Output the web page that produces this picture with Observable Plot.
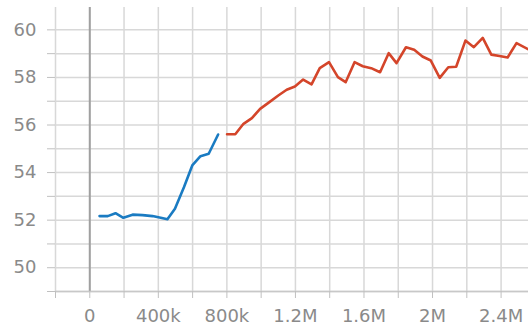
<!DOCTYPE html>
<html>
<head>
<meta charset="utf-8">
<script src="https://cdn.jsdelivr.net/npm/d3@7"></script>
<script src="https://cdn.jsdelivr.net/npm/@observablehq/plot@0.6"></script>
<style>
  html, body { margin: 0; padding: 0; background: #fff; }
</style>
</head>
<body>
<div id="chart"></div>
<script>
// Training steps (in thousands) and metric values for the first run
const runASteps = [57, 105, 150, 196, 250, 308, 366, 414, 453, 497, 550, 598, 646, 694, 749];
const runAValues = [52.17, 52.17, 52.29, 52.10, 52.23, 52.21, 52.17, 52.10, 52.04, 52.48, 53.39, 54.30, 54.69, 54.79, 55.60];

// Training steps (in thousands) and metric values for the resumed run
const runBSteps = [801, 849, 897, 946, 994, 1048, 1100, 1149, 1197, 1245, 1294, 1342, 1396, 1448, 1493,
  1545, 1593, 1642, 1694, 1744, 1790, 1845, 1893, 1941, 1990, 2042, 2092, 2138, 2192, 2241, 2293,
  2343, 2391, 2438, 2490, 2560];
const runBValues = [55.61, 55.61, 56.05, 56.29, 56.68, 56.96, 57.24, 57.48, 57.62, 57.91, 57.71, 58.39, 58.64, 58.01, 57.80,
  58.64, 58.47, 58.39, 58.22, 59.02, 58.60, 59.27, 59.16, 58.88, 58.71, 57.98, 58.43, 58.45, 59.55, 59.27, 59.66,
  58.96, 58.90, 58.84, 59.44, 59.18];

// Axis ticks
const xTickValues = [0, 400000, 800000, 1200000, 1600000, 2000000, 2400000];
const xTickLabels = ["0", "400k", "800k", "1.2M", "1.6M", "2M", "2.4M"];
const yTickLabels = [50, 52, 54, 56, 58, 60];

const runA = runASteps.map((s, i) => ({step: s * 1000, value: runAValues[i]}));
const runB = runBSteps.map((s, i) => ({step: s * 1000, value: runBValues[i]}));
const xLabel = new Map(xTickValues.map((v, i) => [v, xTickLabels[i]]));

const xDomain = [-200000, 2560000];
const yDomain = [49, 60.94];
const xMinor = d3.range(-200000, 2560001, 200000);
const yMinor = d3.range(49, 61, 1);

const chart = Plot.plot({
  width: 528,
  height: 328,
  marginLeft: 55,
  marginRight: 0,
  marginTop: 7,
  marginBottom: 37,
  style: {fontFamily: "DejaVu Sans", fontSize: "18px", background: "#fff", overflow: "visible"},
  x: {domain: xDomain},
  y: {domain: yDomain},
  marks: [
    Plot.gridX(xMinor, {stroke: "#d8d8d8", strokeOpacity: 1, strokeWidth: 1.5}),
    Plot.gridY(yMinor, {stroke: "#d8d8d8", strokeOpacity: 1, strokeWidth: 1.5}),
    Plot.ruleX([0], {stroke: "#a0a0a0", strokeWidth: 2}),
    Plot.ruleY([49], {stroke: "#c8c8c8", strokeWidth: 1.5}),
    Plot.axisX(xMinor, {
      tickSize: 7, tickPadding: 11, stroke: "#c0c0c0", fill: "#8a8a8a",
      tickFormat: d => xLabel.get(d) ?? "", label: null
    }),
    Plot.axisY(yMinor, {
      tickSize: 8, tickPadding: 11, stroke: "#c0c0c0", fill: "#8a8a8a",
      tickFormat: d => yTickLabels.includes(d) ? String(d) : "", label: null
    }),
    Plot.line(runA, {x: "step", y: "value", stroke: "#1a7bc2", strokeWidth: 2.6, clip: true}),
    Plot.line(runB, {x: "step", y: "value", stroke: "#d4452a", strokeWidth: 2.6, clip: true})
  ]
});
document.getElementById("chart").append(chart);
</script>
</body>
</html>
